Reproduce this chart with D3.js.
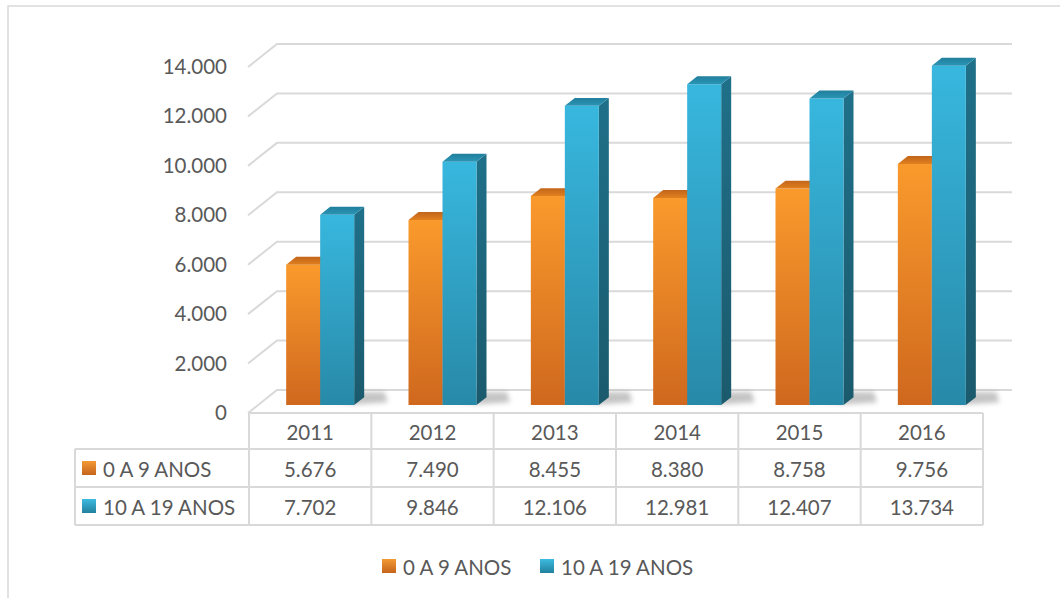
<!DOCTYPE html>
<html>
<head>
<meta charset="utf-8">
<script src="https://cdn.jsdelivr.net/npm/d3@7"></script>
<style>
  html, body { margin: 0; padding: 0; background: #fff; }
  svg { display: block; }
  text { font-family: Lato, "Open Sans", sans-serif; fill: #595959; }
</style>
</head>
<body>
<svg id="chart" width="1060" height="598"></svg>
<script>
// ---- data ----
const years = ["2011", "2012", "2013", "2014", "2015", "2016"];
const seriesNames = ["0 A 9 ANOS", "10 A 19 ANOS"];
const ages0to9 = [5676, 7490, 8455, 8380, 8758, 9756];
const ages10to19 = [7702, 9846, 12106, 12981, 12407, 13734];
const yTicks = [0, 2000, 4000, 6000, 8000, 10000, 12000, 14000];

const seriesValues = [ages0to9, ages10to19];

const locale = d3.formatLocale({ decimal: ",", thousands: ".", grouping: [3], currency: ["R$", ""] });
const fmt = locale.format(",d");

const svg = d3.select("#chart");
const W = 1060, H = 598;

// frame
svg.append("path")
  .attr("d", `M8,${H + 2} L8,6 L${W + 2},6`)
  .attr("fill", "none").attr("stroke", "#d9d9d9").attr("stroke-width", 1.5);

// scales (front plane)
const x = d3.scaleBand().domain(years).range([249, 983]).paddingInner(0).paddingOuter(0);
const y = d3.scaleLinear().domain([0, 14000]).range([413, 67]);
const DX = 29, DY = -23; // oblique depth offset for z = 1
const P = (px, v, z) => [px + z * DX, y(v) + z * DY];

const defs = svg.append("defs");
function lin(id, stops, x2 = 0, y2 = 1) {
  const g = defs.append("linearGradient").attr("id", id)
    .attr("x1", 0).attr("y1", 0).attr("x2", x2).attr("y2", y2);
  stops.forEach(([o, c]) => g.append("stop").attr("offset", o).attr("stop-color", c));
}
lin("orFront", [[0, "#FA9A2C"], [1, "#CF681E"]]);
lin("orTop", [[0, "#C2651A"], [1, "#E0801F"]]);
lin("blFront", [[0, "#38B7DE"], [1, "#2889A8"]]);
lin("blTop", [[0, "#217F9C"], [1, "#2A95B6"]]);
lin("blSide", [[0, "#1F7089"], [1, "#1B5A6D"]]);
lin("orLeg", [[0, "#F39A36"], [1, "#C5641C"]]);
lin("blLeg", [[0, "#3DBBE0"], [1, "#22809E"]]);
lin("shadowGrad", [[0, "#555"], [1, "#fff"]], 1, 0);
defs.append("filter").attr("id", "blur").attr("x", "-50%").attr("y", "-50%").attr("width", "200%").attr("height", "200%")
  .append("feGaussianBlur").attr("stdDeviation", 2.5);

// gridlines (back wall + left wall diagonal)
const xL = x.range()[0] - 1, xR = x.range()[1];
const grid = svg.append("g");
yTicks.forEach(v => {
  const a = P(xL, v, 0), b = P(xL, v, 1), c = P(xR, v, 1);
  grid.append("path")
    .attr("d", `M${a} L${b} L${c}`)
    .attr("fill", "none").attr("stroke", "#d9d9d9").attr("stroke-width", 2);
});

const fs = "20.5px";

// y axis labels
const axis = d3.axisLeft(y).tickValues(yTicks).tickFormat(fmt).tickSize(0).tickPadding(0);
const axG = svg.append("g").attr("transform", "translate(227,0)").call(axis);
axG.select(".domain").remove();
axG.selectAll("text").style("font-size", fs).attr("fill", "#595959")
  .style("font-family", "Lato, sans-serif");

// bars
const barW = 34, z0 = 0.345, z1 = 0.69;
const poly = pts => "M" + pts.map(p => p.join(",")).join("L") + "Z";
const barsG = svg.append("g");
years.forEach((yr, i) => {
  const c = x(yr) + x.bandwidth() / 2;
  const sl = c - barW, sr = c + barW;
  // soft shadow on the floor
  barsG.append("path")
    .attr("d", poly([P(sl - 4, 0, z1 + 0.05), P(sr, 0, z0 + 0.02), P(sr + 30, 0, z0 + 0.12), P(sr + 14, 0, z1 + 0.22), P(sl - 10, 0, z1 + 0.22)]))
    .attr("fill", "#6d6d6d").attr("opacity", 0.4).attr("filter", "url(#blur)");
  seriesValues.forEach((vals, s) => {
    const v = vals[i];
    const l = s === 0 ? c - barW : c;
    const r = l + barW;
    const g = barsG.append("g");
    g.append("path").attr("d", poly([P(r, v, z0), P(r, v, z1), P(r, 0, z1), P(r, 0, z0)]))
      .attr("fill", s === 0 ? "#B85A17" : "url(#blSide)");
    g.append("path").attr("d", poly([P(l, v, z0), P(r, v, z0), P(r, 0, z0), P(l, 0, z0)]))
      .attr("fill", s === 0 ? "url(#orFront)" : "url(#blFront)");
    g.append("path").attr("d", poly([P(l, v, z0), P(r, v, z0), P(r, v, z1), P(l, v, z1)]))
      .attr("fill", s === 0 ? "url(#orTop)" : "url(#blTop)");
  });
});

// data table
const tbl = svg.append("g");
const rowY = [413, 449, 487, 525];
const legX0 = 75;
const line = (x1, y1, x2, y2) => tbl.append("line")
  .attr("x1", x1).attr("y1", y1).attr("x2", x2).attr("y2", y2)
  .attr("stroke", "#d9d9d9").attr("stroke-width", 2);
line(xL, rowY[0], xR, rowY[0]);
line(legX0, rowY[1], xR, rowY[1]);
line(legX0, rowY[2], xR, rowY[2]);
line(legX0, rowY[3], xR, rowY[3]);
line(legX0, rowY[1], legX0, rowY[3]);
years.forEach(yr => line(x(yr), rowY[0], x(yr), rowY[3]));
line(xR, rowY[0], xR, rowY[3]);

years.forEach((yr, i) => {
  const cx = x(yr) + x.bandwidth() / 2;
  tbl.append("text").attr("x", cx).attr("y", (rowY[0] + rowY[1]) / 2 + 1)
    .attr("text-anchor", "middle").attr("dominant-baseline", "central").style("font-size", fs).text(yr);
  seriesValues.forEach((vals, s) => {
    tbl.append("text").attr("x", cx).attr("y", (rowY[s + 1] + rowY[s + 2]) / 2 + 1)
      .attr("text-anchor", "middle").attr("dominant-baseline", "central").style("font-size", fs).text(fmt(vals[i]));
  });
});
seriesNames.forEach((nm, s) => {
  const cy = (rowY[s + 1] + rowY[s + 2]) / 2;
  tbl.append("rect").attr("x", 82).attr("y", cy - 7).attr("width", 14).attr("height", 14)
    .attr("fill", s === 0 ? "url(#orLeg)" : "url(#blLeg)");
  tbl.append("text").attr("x", 103).attr("y", cy + 1).attr("dominant-baseline", "central")
    .style("font-size", fs).text(nm);
});

// bottom legend
const leg = svg.append("g");
const legItems = [{ x: 382, name: seriesNames[0], fill: "url(#orLeg)" }, { x: 540, name: seriesNames[1], fill: "url(#blLeg)" }];
legItems.forEach(it => {
  leg.append("rect").attr("x", it.x).attr("y", 559).attr("width", 14).attr("height", 14).attr("fill", it.fill);
  leg.append("text").attr("x", it.x + 21).attr("y", 567).attr("dominant-baseline", "central")
    .style("font-size", fs).text(it.name);
});
</script>
</body>
</html>
